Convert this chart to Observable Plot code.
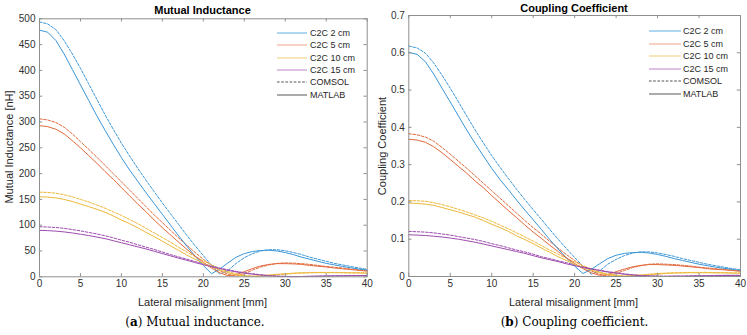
<!DOCTYPE html>
<html><head><meta charset="utf-8">
<script src="https://cdn.jsdelivr.net/npm/d3@7"></script>
<script src="https://cdn.jsdelivr.net/npm/@observablehq/plot@0.6"></script>
<style>
body{margin:0;background:#fff;width:747px;height:335px;overflow:hidden;position:relative;font-family:"Liberation Sans",Arial,sans-serif;}
.panel{position:absolute;top:0;}
.t{position:absolute;white-space:nowrap;transform:translate(-50%,-50%);line-height:1;}
.title{font-weight:bold;font-size:11px;color:#000;}
.xlab{font-size:11px;color:#262626;}
.ylab{font-size:11px;color:#262626;transform:translate(-50%,-50%) rotate(-90deg);}
.cap{font-family:"DejaVu Serif",serif;font-size:12px;color:#000;}
</style></head><body>
<div id="p1" class="panel" style="left:0px"></div>
<div id="p2" class="panel" style="left:375px"></div>
<script>
// ---- data ----
const xs = [0,1,2,3,4,5,6,7,8,9,10,11,12,13,14,15,16,17,18,19,20,21,22,23,24,25,26,27,28,29,30,31,32,33,34,35,36,37,38,39,40];
const seriesNames = ["C2C 2 cm","C2C 5 cm","C2C 10 cm","C2C 15 cm"];
const xTicks = [0,5,10,15,20,25,30,35,40];
const yTicksM = [0,50,100,150,200,250,300,350,400,450,500];
const yTicksK = [0,0.1,0.2,0.3,0.4,0.5,0.6,0.7];

// Mutual inductance [nH]
const blueM_matlab   = [478,474,458,432,402,372,342,312,284,257,231,207,185,163,142,121,100,79,59,40,22,6,15,27,38,45,49,51,51.5,50,47,43,38,34,30,26,23,20,17.5,15,13];
const blueM_comsol   = [494,490,479,458,432,404,374,344,314,286,259,234,210,187,165,143,122,101,80,60,41,22,5,12,26,37,45,50,52.5,52.5,50.5,47,43,38,34,30,26,23,20,17,14.5];
const orangeM_matlab = [293,291,286,277,264,250,235,220,204,189,173,157,141,126,110,95,81,67,53,40,28,17,8,2,4,10,16,21,24,25.5,25.5,25,24,22,20.5,19,17,15.5,14,12.5,11];
const orangeM_comsol = [306,304,299,290,277,262,247,232,216,200,184,168,152,136,120,105,90,75,61,47,34,22,12,5,1,6,13,19,23,26,27,26.5,25.5,24,22,20,18.5,17,15,13.5,12];
const yellowM_matlab = [155,154.5,153,150,146,141,136,131,125,118,110,103,95,86,78,69,60,51,42,34,26,19,13,8,4,1.5,1,2,3.5,5,6,7,7.5,8,8,8,8,7.8,7.5,7.3,7];
const yellowM_comsol = [164,163.5,162,159,155,150,145,139,133,126,119,111,103,94,85,76,67,57,48,39,31,23,16,10,6,3,1,1,2,4,5,6.5,7.5,8,8.5,8.5,8.5,8.3,8,7.8,7.5];
const purpleM_matlab = [90,89.5,88.5,87,85,82.5,80,77,74,70,66,62,58,54,49.5,45,40.5,36,32,27.5,23.5,19.5,16,12.5,9.5,7,5,3.5,2,1,0.5,0.3,0.5,0.8,1.2,1.5,1.8,2,2.2,2.3,2.4];
const purpleM_comsol = [97,96.5,95.5,94,91.5,89,86,83,79.5,75.5,71,67,62,57.5,53,48,43,38.5,34,29.5,25,21,17,13.5,10.5,8,6,4,2.5,1.5,0.8,0.5,0.6,1,1.3,1.7,2,2.2,2.4,2.5,2.6];

// Coupling coefficient
const blueK_matlab   = [0.601,0.596,0.576,0.543,0.505,0.468,0.430,0.392,0.357,0.323,0.290,0.260,0.233,0.205,0.178,0.152,0.126,0.099,0.074,0.050,0.028,0.008,0.019,0.034,0.048,0.057,0.062,0.064,0.065,0.063,0.059,0.054,0.048,0.043,0.038,0.033,0.029,0.025,0.022,0.019,0.016];
const blueK_comsol   = [0.618,0.613,0.599,0.573,0.540,0.505,0.468,0.430,0.393,0.358,0.324,0.293,0.263,0.234,0.206,0.179,0.153,0.126,0.100,0.075,0.051,0.028,0.006,0.015,0.033,0.046,0.056,0.063,0.066,0.066,0.063,0.059,0.054,0.048,0.043,0.038,0.033,0.029,0.025,0.021,0.018];
const orangeK_matlab = [0.368,0.366,0.360,0.348,0.332,0.314,0.295,0.277,0.256,0.238,0.217,0.197,0.177,0.158,0.138,0.119,0.102,0.084,0.067,0.050,0.035,0.021,0.010,0.003,0.005,0.013,0.020,0.026,0.030,0.032,0.032,0.031,0.030,0.028,0.026,0.024,0.021,0.019,0.018,0.016,0.014];
const orangeK_comsol = [0.383,0.380,0.374,0.363,0.346,0.328,0.309,0.290,0.270,0.250,0.230,0.210,0.190,0.170,0.150,0.131,0.113,0.094,0.076,0.059,0.043,0.028,0.015,0.006,0.001,0.008,0.016,0.024,0.029,0.033,0.034,0.033,0.032,0.030,0.028,0.025,0.023,0.021,0.019,0.017,0.015];
const yellowK_matlab = [0.197,0.196,0.194,0.191,0.185,0.179,0.173,0.166,0.159,0.150,0.140,0.131,0.121,0.109,0.099,0.088,0.076,0.065,0.053,0.043,0.033,0.024,0.017,0.010,0.005,0.002,0.001,0.003,0.004,0.006,0.008,0.009,0.010,0.010,0.010,0.010,0.010,0.010,0.010,0.009,0.009];
const yellowK_comsol = [0.204,0.203,0.202,0.198,0.193,0.187,0.180,0.173,0.165,0.157,0.148,0.138,0.128,0.117,0.106,0.095,0.083,0.071,0.060,0.049,0.039,0.029,0.020,0.012,0.007,0.004,0.001,0.001,0.002,0.005,0.006,0.008,0.009,0.010,0.011,0.011,0.011,0.010,0.010,0.010,0.009];
const purpleK_matlab = [0.112,0.111,0.110,0.108,0.106,0.103,0.100,0.096,0.092,0.087,0.082,0.077,0.072,0.067,0.062,0.056,0.050,0.045,0.040,0.034,0.029,0.024,0.020,0.016,0.012,0.009,0.006,0.004,0.002,0.001,0.001,0.000,0.001,0.001,0.001,0.002,0.002,0.002,0.003,0.003,0.003];
const purpleK_comsol = [0.121,0.120,0.119,0.117,0.114,0.111,0.107,0.103,0.099,0.094,0.088,0.083,0.077,0.071,0.066,0.060,0.053,0.048,0.042,0.037,0.031,0.026,0.021,0.017,0.013,0.010,0.007,0.005,0.003,0.002,0.001,0.001,0.001,0.001,0.002,0.002,0.002,0.003,0.003,0.003,0.003];

// ---- style ----
const lineColors = ["#3a96d6","#e2693c","#edb83a","#9d4cae"];
const legendColors = ["#6cb5e6","#f1ab92","#f2d184","#c58fd0"];
const axisColor = "#8f8f8f";

function rows(arrs) {
  return arrs.flatMap((arr, j) => xs.map((x, i) => ({x, v: arr[i], s: seriesNames[j]})));
}

function panel(opts) {
  const {el, width, height, marginLeft, marginRight, marginTop, marginBottom, yDomain, yTicks, yFormat, comsol, matlab} = opts;
  const ySpan = yDomain[1] - yDomain[0];
  const plotW = width - marginLeft - marginRight, plotH = height - marginTop - marginBottom;
  const tickPx = 3.2;
  const ty = ySpan * tickPx / plotH;
  const tx = 40 * tickPx / plotW;
  const chart = Plot.plot({
    width, height, marginLeft, marginRight, marginTop, marginBottom,
    style: {fontFamily: "'Liberation Sans', Arial, sans-serif", fontSize: "10px", color: "#303030", background: "white", overflow: "visible"},
    x: {domain: [0, 40]},
    y: {domain: yDomain},
    color: {domain: seriesNames, range: lineColors},
    marks: [
      Plot.line(rows(comsol), {x: "x", y: "v", z: "s", stroke: "s", strokeWidth: 1, strokeDasharray: "2.6,1.6"}),
      Plot.line(rows(matlab), {x: "x", y: "v", z: "s", stroke: "s", strokeWidth: 1}),
      Plot.frame({stroke: axisColor, strokeWidth: 1}),
      Plot.ruleX(xTicks, {x: d => d, y1: yDomain[0], y2: yDomain[0] + ty, stroke: axisColor}),
      Plot.ruleX(xTicks, {x: d => d, y1: yDomain[1], y2: yDomain[1] - ty, stroke: axisColor}),
      Plot.ruleY(yTicks, {y: d => d, x1: 0, x2: tx, stroke: axisColor}),
      Plot.ruleY(yTicks, {y: d => d, x1: 40, x2: 40 - tx, stroke: axisColor}),
      Plot.axisX({ticks: xTicks, tickSize: 0, tickPadding: 3, label: null}),
      Plot.axisY({ticks: yTicks, tickSize: 0, tickPadding: 4, label: null, tickFormat: yFormat})
    ]
  });
  document.getElementById(el).appendChild(chart);
}

panel({el: "p1", width: 373, height: 290, marginLeft: 39, marginRight: 6.3, marginTop: 18.3, marginBottom: 13.7,
  yDomain: [0, 500], yTicks: yTicksM, yFormat: d => String(d),
  comsol: [blueM_comsol, orangeM_comsol, yellowM_comsol, purpleM_comsol],
  matlab: [blueM_matlab, orangeM_matlab, yellowM_matlab, purpleM_matlab]});

panel({el: "p2", width: 372, height: 290, marginLeft: 33.3, marginRight: 7, marginTop: 15, marginBottom: 14,
  yDomain: [0, 0.7], yTicks: yTicksK, yFormat: d => d === 0 ? "0" : d.toFixed(1),
  comsol: [blueK_comsol, orangeK_comsol, yellowK_comsol, purpleK_comsol],
  matlab: [blueK_matlab, orangeK_matlab, yellowK_matlab, purpleK_matlab]});

// ---- texts ----
function txt(cls, x, y, html) {
  const d = document.createElement("div");
  d.className = "t " + cls;
  d.style.left = x + "px"; d.style.top = y + "px";
  d.innerHTML = html;
  document.body.appendChild(d);
}
txt("title", 202.5, 10, "Mutual Inductance");
txt("title", 574, 8, "Coupling Coefficient");
txt("xlab", 202.5, 301.5, "Lateral misalignment [mm]");
txt("xlab", 573.5, 301.5, "Lateral misalignment [mm]");
txt("ylab", 9, 147, "Mutual Inductance [nH]");
txt("ylab", 381.5, 145.5, "Coupling Coefficient");
txt("cap", 195, 322, "(<b>a</b>) Mutual inductance.");
txt("cap", 574.5, 322, "(<b>b</b>) Coupling coefficient.");

// ---- legends ----
const legendItems = seriesNames.map((n, i) => ({label: n, color: legendColors[i], dash: null}))
  .concat([{label: "COMSOL", color: "#555", dash: "2.6,1.6"}, {label: "MATLAB", color: "#666", dash: null}]);
function legend(left, top, lineW, gap, spacing) {
  legendItems.forEach((it, i) => {
    const row = document.createElement("div");
    row.style.cssText = `position:absolute;left:${left}px;top:${top + i * spacing}px;height:0;`;
    row.innerHTML = `<svg width="${lineW}" height="6" style="position:absolute;left:0;top:-3px;overflow:visible"><line x1="0" x2="${lineW}" y1="3" y2="3" stroke="${it.color}" stroke-width="1.1" ${it.dash ? `stroke-dasharray="${it.dash}"` : ""}/></svg><span style="position:absolute;left:${lineW + gap}px;top:-6px;font-size:9px;line-height:12px;white-space:nowrap;color:#262626">${it.label}</span>`;
    document.body.appendChild(row);
  });
}
legend(277, 32.7, 30, 3, 12.4);
legend(649, 31, 32, 2, 12.5);
</script>
</body></html>
